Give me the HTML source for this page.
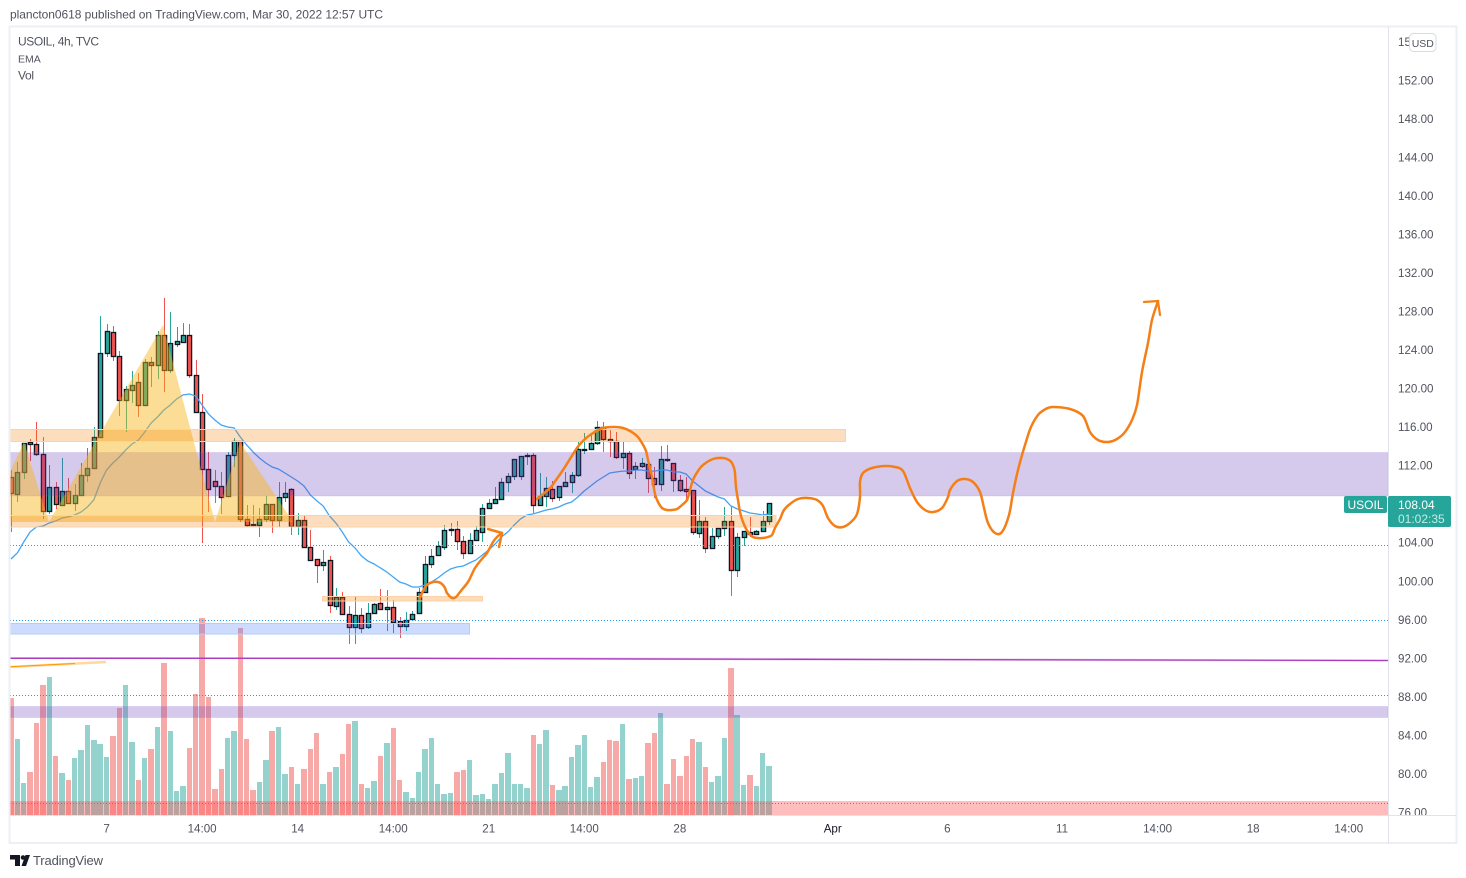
<!DOCTYPE html>
<html>
<head>
<meta charset="utf-8">
<title>USOIL 4h chart</title>
<style>
html,body{margin:0;padding:0;background:#fff;width:1466px;height:878px;overflow:hidden}
svg{display:block}
text{font-family:"Liberation Sans",sans-serif;font-size:12px;fill:#50535e}
</style>
</head>
<body>
<svg id="chart" width="1466" height="878" viewBox="0 0 1466 878" xmlns="http://www.w3.org/2000/svg">
<defs><clipPath id="pane"><rect x="10" y="27" width="1378" height="788"/></clipPath></defs>
<rect x="0" y="0" width="1466" height="878" fill="#fff"/>
<text x="10" y="18.500" textLength="373">plancton0618 published on TradingView.com, Mar 30, 2022 12:57 UTC</text>
<g id="volumes" clip-path="url(#pane)"></g>
<g id="candles" clip-path="url(#pane)"></g>
<polyline id="ema" fill="none" stroke="#42a5f5" stroke-width="1.3" clip-path="url(#pane)"/>
<g id="levels"></g>
<g id="overlays">
<rect x="10" y="452.500" width="1378" height="43.500" fill="rgba(103,58,183,.27)" stroke="rgba(149,117,205,.18)"/>
<rect x="10" y="706.500" width="1378" height="11" fill="rgba(103,58,183,.27)" stroke="rgba(149,117,205,.18)"/>
<rect x="10" y="801" width="1378" height="14" fill="rgba(255,82,82,.38)"/>
<rect x="10" y="623.500" width="459.500" height="10.500" fill="rgba(41,98,255,.23)" stroke="#b2cef4"/>
<polygon points="10,472 24,442 49,522 163,325 215,522 240,442 293,522 10,522" fill="rgba(249,180,20,.45)"/>
<rect x="10" y="429.500" width="835.500" height="12" fill="rgba(245,124,0,.25)" stroke="#fbd2a6"/>
<rect x="10" y="515.500" width="766" height="11.500" fill="rgba(245,124,0,.25)" stroke="#fbd2a6"/>
<rect x="322.500" y="596.500" width="160" height="4.500" fill="rgba(245,124,0,.27)" stroke="#fbd2a6"/>
<polygon points="10,657 400,657 1388,659.500 1388,661.500 800,660.500 400,659 10,659" fill="rgba(171,71,188,.28)"/>
<polyline points="10,658.300 400,658.400 800,659.300 1388,660.500" fill="none" stroke="#ab3cbf" stroke-width="1.300"/>
<polyline points="10,667 106,662" fill="none" stroke="#fdd9a0" stroke-width="2.500"/>
<polyline points="10,666.800 75,663.500" fill="none" stroke="#ff9800" stroke-width="1"/>
<path class="smooth" data-pts="420,598 423,591 427,585 433,582 438,582 442,584 445,588 447,593 452,598 456,597 460,592 468,582 472,574 475,568 481,560 487,553 493,542 497,537 502,533" fill="none" stroke="#f57f17" stroke-width="2.500" stroke-linejoin="round" stroke-linecap="round"/>
<polyline points="488,529 502,533 499,547" fill="none" stroke="#f57f17" stroke-width="2.500" stroke-linejoin="round" stroke-linecap="round"/>
<path class="smooth" data-pts="537,499 550,488 556,480 563,470 577,448 583,441 590,435 603,428 615,427 623,428 630,431 637,436 642,443 646,451 648,460 651,472 653,483 655,494 658,502 662,508 667,510 672,510 677,509 682,505 687,500 690,490 693,480 698,471 703,465 713,459 723,458 729,460 732,463 734,468 735,473 736,487 738,500 740,512 743,522 748,532 753,537 758,538 763,538 768,537 772,535 775,528 780,519 784,510 790,504 798,499 808,498 817,500 823,506 828,518 835,526 843,527 851,522 857,514 860,497 860,482 863,473 872,468 885,466 895,467 903,471 910,488 917,502 925,510 933,512 942,508 948,497 950,490 957,481 965,479 973,482 980,492 984,508 988,523 995,533 1002,532 1009,515 1013,493 1018,470 1025,445 1031,427 1038,415 1044,410 1052,407 1070,409 1083,416 1090,432 1098,440 1108,442 1117,439 1125,432 1132,420 1137,405 1142,372 1148,343 1152,320 1158,301" fill="none" stroke="#f57f17" stroke-width="2.500" stroke-linejoin="round" stroke-linecap="round"/>
<polyline points="1144,302 1158,301 1160,315" fill="none" stroke="#f57f17" stroke-width="2.200" stroke-linejoin="round" stroke-linecap="round"/>
</g>
<g fill="none" stroke="#e8e9ef">
<rect x="9.500" y="26.500" width="1447" height="816.500" stroke="#eeeff4" stroke-width="2"/>
<line x1="1388.500" y1="27" x2="1388.500" y2="843" stroke="#e0e3eb"/>
<line x1="10" y1="815.500" x2="1456" y2="815.500" stroke="#e0e3eb"/>
</g>
<g id="price-axis"></g>
<g id="time-axis"></g>
<g>
<text x="18" y="45.500" textLength="81">USOIL, 4h, TVC</text>
<text x="18" y="62.500" style="font-size:10.500px">EMA</text>
<text x="18" y="79.500" textLength="16">Vol</text>
</g>
<g>
<rect x="1409.500" y="33.500" width="26.500" height="18" rx="4" fill="#fff" stroke="#d8dbe3"/>
<text x="1422.800" y="47" text-anchor="middle" style="font-size:10.500px">USD</text>
</g>
<g>
<rect x="1344" y="496" width="43" height="17" rx="2" fill="#26a69a"/>
<text x="1365.500" y="509" text-anchor="middle" style="fill:#fff;font-size:12px">USOIL</text>
<rect x="1388" y="496" width="63" height="31" rx="2" fill="#26a69a"/>
<text x="1398" y="509" style="fill:#fff;font-size:12px">108.04</text>
<text x="1398" y="523" style="fill:#c4ebe6;font-size:12px">01:02:35</text>
</g>
<g>
<path d="M10 855h10v11h-5v-6.500h-5zM21.500 866l4-11h4.500l-4 11z" fill="#131722"/>
<circle cx="23" cy="857.500" r="2.300" fill="#131722"/>
<text x="33" y="865" textLength="70" style="font-size:13px;fill:#50535e">TradingView</text>
</g>
</svg>
<script>
const opens=[110.77,109.01,111.29,114.41,114.20,113.16,107.25,109.74,107.87,109.33,108.08,108.91,110.98,111.71,114.93,123.65,125.83,123.33,118.77,119.81,120.64,118.25,122.71,122.40,125.52,121.89,124.59,124.79,125.52,121.37,117.52,111.60,110.36,109.84,108.80,113.06,114.52,106.42,105.89,105.79,106.42,107.97,106.31,108.70,109.53,105.68,106.31,103.51,102.26,101.64,102.16,97.39,98.32,96.56,95.20,96.45,95.20,96.66,97.70,97.07,97.28,95.83,95.31,96.03,96.66,98.84,101.74,102.68,103.51,105.28,105.38,104.14,102.89,104.24,105.07,107.56,108.08,108.49,110.26,110.88,110.88,112.96,113.06,107.87,108.80,109.53,108.70,109.84,110.26,110.98,113.58,113.68,114.31,115.97,114.72,114.52,112.85,113.27,111.60,111.91,112.12,110.67,110.05,112.64,112.23,110.47,109.53,109.43,104.97,106.21,103.41,104.65,105.48,106.21,101.12,104.55,105.07,104.86,105.17,106.21];
const highs=[111.50,112.33,114.31,114.73,116.48,114.93,112.02,110.26,112.75,110.68,110.05,112.23,113.79,115.97,127.49,126.66,126.45,123.86,120.22,121.78,121.58,123.02,123.23,125.94,129.36,127.90,126.35,126.76,126.66,122.92,119.39,113.37,111.50,111.29,113.37,114.83,114.52,107.87,107.87,107.56,108.80,107.97,110.26,110.26,109.63,107.04,106.73,105.28,102.26,103.20,102.58,99.26,98.84,97.39,98.32,97.18,97.70,97.70,99.15,99.05,98.01,96.24,96.76,96.87,99.26,102.58,103.30,104.13,105.79,106.00,106.21,104.65,104.97,105.69,107.97,108.49,109.74,110.68,111.19,112.64,112.96,113.27,113.27,111.19,110.77,110.36,109.84,111.29,111.29,114.41,115.35,115.35,116.59,116.48,115.66,115.45,114.52,113.48,112.33,112.75,112.33,111.81,113.99,114.10,112.23,110.98,110.77,109.43,108.39,106.63,105.48,105.48,107.66,107.77,104.97,105.17,106.63,105.28,107.25,108.04];
const lows=[105.07,108.18,110.57,112.44,112.96,106.42,106.94,107.46,107.87,108.08,107.25,108.91,110.26,111.71,114.93,123.23,122.82,117.11,115.45,118.46,116.98,118.25,120.12,120.95,119.60,121.58,124.27,124.79,121.06,117.52,103.93,107.14,108.08,106.94,108.70,111.81,106.10,105.58,105.79,104.55,106.10,104.97,105.58,108.18,104.76,104.76,103.51,102.16,99.77,101.02,96.66,96.97,96.56,93.43,93.43,94.58,94.99,96.66,97.07,94.79,94.58,94.06,94.79,96.03,96.66,98.84,101.33,102.68,103.20,104.65,103.20,102.26,102.89,104.24,104.03,107.56,108.08,108.49,109.22,110.47,110.47,112.02,107.04,107.87,107.66,108.18,108.29,109.84,109.12,110.77,113.16,113.68,114.10,113.37,112.85,112.64,111.60,110.57,110.57,111.71,109.12,108.60,109.33,112.33,109.22,109.22,108.18,104.76,104.45,102.89,103.41,104.34,104.65,98.42,100.39,103.61,104.55,104.76,105.07,105.79];
const closes=[109.12,111.29,114.31,114.20,113.16,107.25,109.74,107.97,109.33,108.08,108.91,110.98,111.71,114.93,123.65,125.93,123.33,118.77,119.91,120.33,118.25,122.71,122.40,125.52,121.89,124.69,124.90,125.52,121.37,117.52,111.60,109.53,109.84,108.70,113.06,114.52,106.42,105.79,105.79,106.42,107.97,106.31,108.70,109.12,105.68,106.31,103.51,102.16,101.64,101.95,97.49,98.32,96.56,95.20,96.45,95.10,96.66,97.60,97.07,97.28,95.72,95.31,95.93,96.56,98.84,101.74,102.58,103.61,105.28,105.38,104.14,102.89,104.24,105.28,107.56,108.08,108.49,110.26,110.88,112.64,112.96,113.06,107.87,108.80,109.63,108.60,109.84,110.26,110.98,113.68,113.68,114.31,115.97,114.72,114.52,112.85,113.27,111.19,111.91,112.23,110.67,110.05,112.64,112.54,110.47,109.43,109.33,105.07,106.21,103.41,104.65,105.48,106.21,101.12,104.55,105.17,104.86,105.17,106.21,108.04];
const emaValues=[102.26,102.89,104.03,105.07,105.58,105.68,106.00,106.21,106.52,106.63,106.83,107.14,107.66,108.39,110.15,111.50,112.23,112.85,113.58,114.20,114.62,115.45,116.38,117.01,117.73,118.25,118.87,119.29,119.39,119.19,118.25,117.32,116.69,116.17,115.97,115.87,114.93,114.10,113.37,112.75,112.23,111.81,111.60,111.19,110.77,110.36,109.84,108.91,108.29,107.77,106.73,106.00,105.07,104.03,103.41,102.58,102.06,101.74,101.33,100.91,100.39,99.87,99.66,99.35,99.35,99.56,99.87,100.29,100.81,101.22,101.43,101.53,101.85,102.16,102.68,103.20,103.82,104.55,105.07,105.79,106.42,106.83,106.94,107.14,107.35,107.46,107.66,107.97,108.18,108.70,109.33,109.84,110.36,110.77,111.19,111.29,111.39,111.39,111.50,111.50,111.39,111.39,111.50,111.50,111.29,111.29,111.08,110.36,109.84,109.33,109.01,108.70,108.49,107.77,107.46,107.25,107.04,106.94,106.83,106.94];
const volumes=[117,76,32,43,92,130,138,59,42,35,57,65,90,75,71,58,79,107,130,73,35,57,66,88,152,84,24,29,67,121,197,118,26,46,77,84,187,76,25,33,55,84,88,41,48,31,46,66,82,31,43,48,61,91,94,31,27,34,59,72,87,35,23,17,43,66,77,31,21,22,43,45,55,20,21,16,31,42,62,31,31,27,80,71,85,30,25,29,58,70,80,28,38,53,75,74,91,36,37,39,72,82,102,31,56,39,59,76,73,48,33,39,77,147,100,30,40,29,62,49];
const volumeUp=[0,1,1,0,0,0,1,0,1,0,1,1,1,1,1,1,0,0,1,1,0,1,0,1,0,1,1,1,0,0,0,0,0,0,1,1,0,0,0,1,1,0,1,1,0,1,0,0,0,1,0,1,0,0,1,0,1,1,0,1,0,0,1,1,1,1,1,1,1,1,0,0,1,1,1,1,1,1,1,1,1,1,0,1,1,0,1,1,1,1,1,1,1,0,0,0,1,0,1,1,0,0,1,0,0,0,0,0,1,0,1,1,1,0,1,1,0,1,1,1];
const priceTicks=[156,152,148,144,140,136,132,128,124,120,116,112,108,104,100,96,92,88,84,80,76];
const dottedLevels=[103.66,95.87,88.08,76.92];
const timeTickBars=[15,30,45,60,75,90,105,129,147,165,180,195,210];
const timeTickLabels=["7","14:00","14","14:00","21","14:00","28","Apr","6","11","14:00","18","14:00"];

const NS="http://www.w3.org/2000/svg";
function xOf(i){return 11+6.37*i;}
function yOf(p){return 80+(152-p)*9.63;}
function volY(v){return 815-v;}
function make(tag,attrs){
  const e=document.createElementNS(NS,tag);
  for(const k in attrs){e.setAttribute(k,attrs[k]);}
  return e;
}

const volGroup=document.getElementById('volumes');
volumes.forEach(function(v,i){
  const top=Math.round(volY(v));
  const left=Math.round(xOf(i)-2.7);
  const r=make('rect',{x:left,y:top,width:Math.round(xOf(i)+2.7)-left,height:815-top,fill:volumeUp[i]?'#94d3cd':'#f7a9a7'});
  
  
  volGroup.appendChild(r);
});

const candleGroup=document.getElementById('candles');
opens.forEach(function(o,i){
  const c=closes[i];
  const up=c>=o;
  const col=up?'#26a69a':'#ef5350';
  const cx=Math.round(xOf(i));
  const hy=Math.round(yOf(highs[i]));
  const ly=Math.round(yOf(lows[i]));
  const wick=make('rect',{x:cx,y:hy,width:1,height:Math.max(1,ly-hy),fill:col});
  
  
  candleGroup.appendChild(wick);
  const top=Math.round(yOf(Math.max(o,c)));
  const bot=Math.round(yOf(Math.min(o,c)));
  const body=make('rect',{x:cx-1.6,y:top+0.5,width:4.2,height:Math.max(1,bot-top),fill:col,stroke:'#101522','stroke-width':1.3});
  
  
  candleGroup.appendChild(body);
});

document.getElementById('ema').setAttribute('points',emaValues.map(function(v,i){return xOf(i).toFixed(1)+','+yOf(v).toFixed(1);}).join(' '));

const levelGroup=document.getElementById('levels');
dottedLevels.forEach(function(p){
  const yy=Math.floor(yOf(p))+0.5;
  const l=make('line',{x1:10,y1:yy,x2:1388,y2:yy,stroke:'#2196f3','stroke-width':1,'stroke-dasharray':'1 2'});
  
  
  levelGroup.appendChild(l);
});

document.querySelectorAll('path.smooth').forEach(function(pathEl){
  const pts=pathEl.getAttribute('data-pts').split(' ').map(function(s){return s.split(',').map(Number);});
  let d='M'+pts[0][0]+' '+pts[0][1];
  for(let k=0;k<pts.length-1;k++){
    const a=pts[Math.max(0,k-1)],b=pts[k],c=pts[k+1],e=pts[Math.min(pts.length-1,k+2)];
    d+=' C'+(b[0]+(c[0]-a[0])/6).toFixed(1)+' '+(b[1]+(c[1]-a[1])/6).toFixed(1)+' '+(c[0]-(e[0]-b[0])/6).toFixed(1)+' '+(c[1]-(e[1]-b[1])/6).toFixed(1)+' '+c[0]+' '+c[1];
  }
  pathEl.setAttribute('d',d);
});

const priceGroup=document.getElementById('price-axis');
priceTicks.forEach(function(p){
  const t=make('text',{x:1398,y:yOf(p)+4.5,'clip-path':'url(#axisclip)'});
  t.style.fontSize='11.6px';
  t.textContent=p.toFixed(2);
  
  
  priceGroup.appendChild(t);
});
const axisClip=make('clipPath',{id:'axisclip'});
axisClip.appendChild(make('rect',{x:1389,y:27,width:67,height:788}));
document.querySelector('defs').appendChild(axisClip);

const timeGroup=document.getElementById('time-axis');
timeTickBars.forEach(function(b,i){
  const t=make('text',{x:xOf(b),y:832.5,'text-anchor':'middle'});
  t.style.fontSize='11.6px';
  if(timeTickLabels[i]==='Apr'){t.style.fill='#131722';}
  t.textContent=timeTickLabels[i];
  
  
  timeGroup.appendChild(t);
});
</script>
</body>
</html>
